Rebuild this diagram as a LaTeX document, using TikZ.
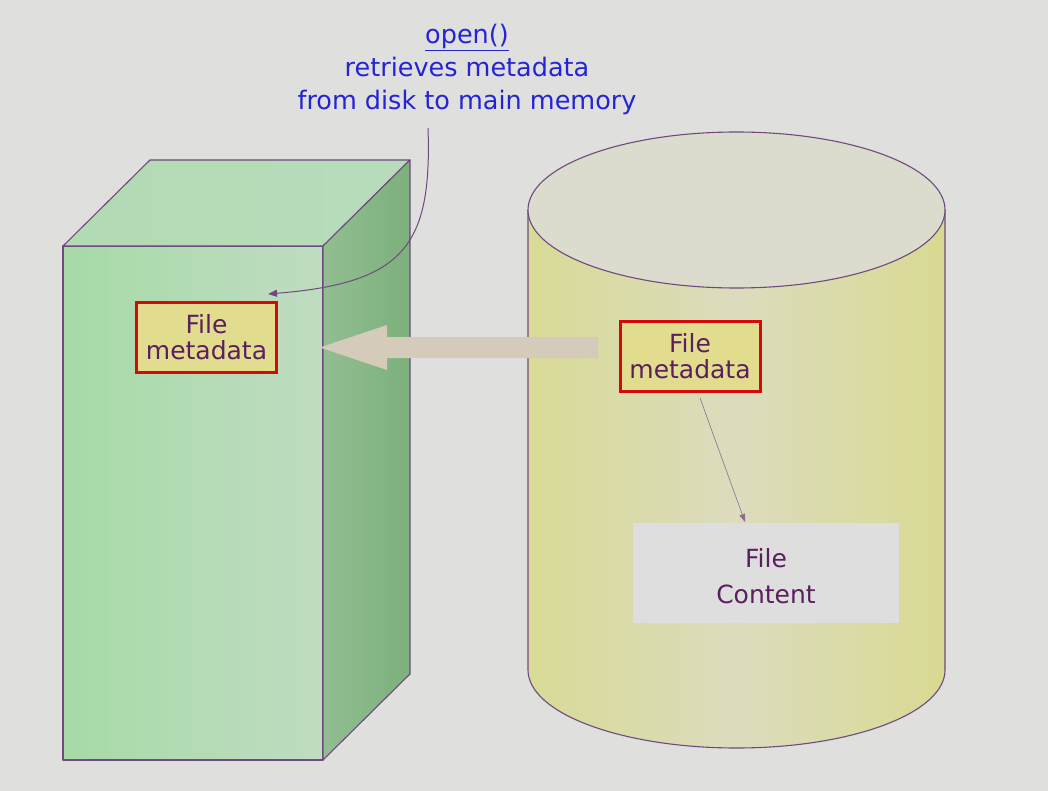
\documentclass[tikz,border=0pt]{standalone}
\usepackage{fontspec}
\setmainfont{DejaVu Sans}
\usetikzlibrary{arrows.meta}
\definecolor{bg}{HTML}{DFDFDD}
\definecolor{edge}{HTML}{6E4A7E}
\definecolor{txt}{HTML}{5B1E5E}
\definecolor{bluetxt}{HTML}{2424D6}
\definecolor{metafill}{HTML}{E2DC8E}
\definecolor{metared}{HTML}{D40A0A}
\definecolor{fatarrow}{HTML}{D5CBBB}
\tikzset{
  metabox/.style={draw=metared, line width=3pt, fill=metafill, text=txt, align=center,
    minimum width=140pt, minimum height=70pt, inner sep=0pt, font=\fontsize{25}{26}\selectfont},
  contentbox/.style={fill=black!13, text=txt, minimum width=266pt, minimum height=100pt,
    inner sep=0pt, font=\fontsize{25}{30}\selectfont},
  faceline/.style={draw=edge, line width=1.1pt, line join=round},
}
\begin{document}
\begin{tikzpicture}[x=1pt,y=-1pt]
\fill[bg] (0,0) rectangle (1048,791);
\useasboundingbox (0,0) rectangle (1048,791);
% prism (main memory)
\path[faceline, left color={rgb,255:red,166;green,218;blue,166}, right color={rgb,255:red,192;green,220;blue,194}]
  (63,246) -- (323,246) -- (323,760) -- (63,760) -- cycle;
\path[faceline, left color={rgb,255:red,178;green,218;blue,180}, right color={rgb,255:red,184;green,220;blue,186}]
  (63,246) -- (150,160) -- (410,160) -- (323,246) -- cycle;
\path[faceline, left color={rgb,255:red,146;green,190;blue,146}, right color={rgb,255:red,124;green,176;blue,124}]
  (323,246) -- (410,160) -- (410,674) -- (323,760) -- cycle;
% cylinder (disk)
\path[faceline, left color={rgb,255:red,216;green,218;blue,150}, right color={rgb,255:red,216;green,218;blue,146}, middle color={rgb,255:red,220;green,220;blue,190}]
  (528,210) -- (528,670) arc[start angle=180, end angle=0, x radius=208.5, y radius=78] -- (945,210) -- cycle;
\path[faceline, fill={rgb,255:red,220;green,220;blue,206}]
  (736.5,210) ellipse[x radius=208.5, y radius=78];
% boxes
\node[metabox] (lmeta) at (206.5,337.5) {File\\metadata};
\node[metabox] (rmeta) at (690,356.5) {File\\metadata};
\node[contentbox] (content) at (766,573)
  {\raisebox{-13pt}[0pt][0pt]{\begin{tabular}{@{}c@{}}File\\[6pt]Content\end{tabular}}};
% fat arrow from disk metadata to memory
\fill[fatarrow] (598,337) -- (387,337) -- (387,325) -- (320,347.5) -- (387,370) -- (387,358) -- (598,358) -- cycle;
% label
\node[text=bluetxt, align=center, font=\fontsize{25.5}{33}\selectfont, anchor=north] (label) at (467,21)
  {\underline{open()}\\retrieves metadata\\from disk to main memory};
\coordinate (cstart) at (428,128);
\coordinate (ctip) at (268,294);
\draw[edge, line width=1pt, -{Triangle[length=9pt,width=7pt]}] (cstart) .. controls (432,245) and (405,283) .. (ctip);
% thin arrow
\coordinate (tstart) at (700,398);
\coordinate (tend) at (745,522);
\draw[edge!80, line width=0.6pt, -{Triangle[length=8pt,width=6pt]}] (tstart) -- (tend);
\end{tikzpicture}
\end{document}
